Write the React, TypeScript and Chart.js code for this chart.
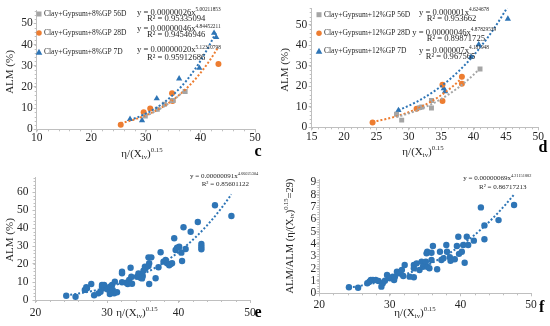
import React, { useEffect, useRef } from "react";
import { Chart, registerables } from "chart.js";
Chart.register(...registerables);

const FONT = '"Liberation Serif", "Times New Roman", serif';
const GRAY = "#a5a5a5";
const ORANGE = "#ed7d31";
const BLUE = "#2e75b6";
const AXIS = "#bfbfbf";
const TXT = "#262626";

// ---------- Panel c data (8% GP) ----------
const c56x = [29.9, 32.1, 33.4, 35.0, 37.2];
const c56y = [6.3, 9.5, 11.8, 13.6, 17.8];
const c28x = [25.4, 29.6, 30.8, 34.8, 34.9, 43.3];
const c28y = [2.2, 8.1, 9.8, 17.0, 13.4, 30.8];
const c7x = [27.1, 29.3, 32.0, 36.1, 39.8, 42.5, 42.9];
const c7y = [4.8, 4.2, 14.5, 23.9, 28.9, 45.4, 43.4];
const cFitA = [0.00000026, 0.00000046, 0.0000002];
const cFitB = [5.00211853, 4.84452211, 5.12310798];
const cLegend = ["Clay+Gypsum+8%GP 56D", "Clay+Gypsum+8%GP 28D", "Clay+Gypsum+8%GP 7D"];
const cEq = [
  ["y = 0.00000026x", "5.00211853", "R² = 0.95335094"],
  ["y = 0.00000046x", "4.84452211", "R² = 0.94546946"],
  ["y = 0.00000020x", "5.12310798", "R² = 0.95912686"],
];

// ---------- Panel d data (12% GP) ----------
const d56x = [28.1, 28.9, 31.7, 32.0, 33.5, 33.5, 41.0];
const d56y = [6.4, 3.5, 9.6, 9.9, 13.1, 9.4, 28.4];
const d28x = [24.4, 31.2, 35.2, 35.2, 38.2, 38.2];
const d28y = [2.4, 9.0, 12.8, 20.8, 24.7, 21.2];
const d7x = [28.4, 35.4, 35.6, 39.6, 40.8, 45.3];
const d7y = [8.3, 19.0, 17.5, 34.3, 40.4, 52.9];
const dFitA = [0.000001, 0.00000046, 0.000007];
const dFitB = [4.624678, 4.87829539, 4.181948];
const dLegend = ["Clay+Gypsum+12%GP 56D", "Clay+Gypsum+12%GP 28D", "Clay+Gypsum+12%GP 7D"];
const dEq = [
  ["y = 0.000001x", "4.624678", "R² = 0.953662"],
  ["y = 0.00000046x", "4.87829539", "R² = 0.89871725"],
  ["y = 0.000007x", "4.181948", "R² = 0.967565"],
];

// ---------- Panel e data (all mixes, ALM) ----------
const eX = [24.3, 25.6, 26.9, 27.1, 27.2, 27.8, 28.2, 28.8, 29.1, 29.3, 29.6, 29.6, 29.3, 30.1, 30.4, 30.7, 30.8, 30.4, 31.0, 31.4,
  31.1, 32.1, 32.1, 32.7, 32.9, 33.1, 33.4, 33.3, 34.2, 34.4, 34.7, 34.8, 35.0, 35.1, 35.3, 35.4, 35.8, 35.9, 35.8, 36.2,
  35.9, 36.8, 37.2, 37.5, 37.9, 38.2, 38.4, 38.7, 38.9, 39.1, 39.4, 39.6, 39.8, 40.1, 40.4, 40.5, 40.7, 41.0, 41.7, 42.7,
  43.2, 43.2, 43.2, 45.1, 47.4, 32.1, 33.5, 34.9];
const eY = [2.4, 1.8, 5.6, 7.1, 6.5, 8.9, 2.6, 3.7, 4.6, 7.4, 8.3, 6.5, 8.3, 5.9, 7.4, 8.3, 5.6, 3.3, 3.7, 4.3,
  10.2, 14.8, 15.7, 9.6, 8.9, 11.1, 12.9, 17.9, 12.9, 14.8, 12.4, 12.6, 13.3, 16.3, 18.5, 17.6, 18.9, 20.4, 23.7, 23.7,
  8.9, 12.1, 18.2, 26.5, 21.3, 22.2, 20.4, 19.3, 20.0, 20.4, 34.3, 27.8, 29.1, 29.6, 26.3, 21.7, 40.4, 28.3, 37.9, 43.3,
  31.1, 29.6, 28.2, 52.6, 46.7, 9.9, 9.0, 12.0];
const eFitA = 0.00000091;
const eFitB = 4.66025304;

// ---------- Panel f data (normalised ALM) ----------
const fX = [24.2, 25.5, 26.8, 27.1, 27.3, 27.6, 28.0, 28.4, 28.8, 29.0, 29.3, 29.6, 30.0, 30.4, 30.6, 30.7, 31.0, 31.3, 31.7, 31.9,
  32.1, 32.8, 33.4, 33.4, 33.4, 33.8, 34.2, 34.5, 34.7, 35.1, 35.3, 35.6, 35.2, 35.3, 35.9, 36.1, 35.9, 36.7, 37.1, 37.3,
  37.6, 38.0, 38.1, 38.5, 38.6, 39.2, 39.5, 39.7, 39.8, 40.2, 40.4, 40.6, 40.9, 41.1, 41.9, 42.9, 43.4, 43.4, 45.4, 47.6];
const fY = [0.49, 0.45, 0.81, 0.94, 1.08, 1.08, 1.08, 1.0, 0.54, 0.81, 1.02, 1.48, 1.22, 1.35, 1.08, 1.32, 1.75, 1.62, 1.89, 1.4,
  2.3, 1.35, 1.3, 2.3, 2.03, 2.43, 1.89, 2.56, 2.16, 2.56, 2.16, 2.03, 3.24, 3.37, 2.7, 3.84, 3.29, 1.95, 3.37, 2.7,
  2.84, 3.92, 3.37, 2.92, 2.64, 2.76, 3.84, 4.59, 3.2, 3.37, 3.92, 2.48, 4.59, 3.92, 4.27, 6.97, 5.51, 4.38, 5.94, 7.16];
const fFitA = 0.00000069;
const fFitB = 4.21151882;

// ---------- helpers ----------
type Part = { t: string; k?: "sub" | "sup" };
type TextItem = { parts: Part[]; x: number; y: number; size: number; bold?: boolean; rot?: boolean; align?: "left" | "center" | "right"; color?: string };
type LegendItem = { label: string; color: string; shape: "rect" | "circle" | "triangle"; x: number; y: number; size: number };

const pts = (xs: number[], ys: number[]) => xs.map((x, i) => ({ x, y: ys[i] }));
function powerCurve(a: number, b: number, xs: number[]) {
  const x0 = Math.min(...xs), x1 = Math.max(...xs);
  const out: { x: number; y: number }[] = [];
  for (let i = 0; i <= 40; i++) {
    const x = x0 + ((x1 - x0) * i) / 40;
    out.push({ x, y: a * Math.pow(x, b) });
  }
  return out;
}

function drawRich(ctx: CanvasRenderingContext2D, it: TextItem) {
  const fontFor = (p: Part) => `${it.bold ? "bold " : ""}${p.k ? it.size * 0.62 : it.size}px ${FONT}`;
  let total = 0;
  const ws = it.parts.map((p) => {
    ctx.font = fontFor(p);
    const w = ctx.measureText(p.t).width;
    total += w;
    return w;
  });
  ctx.save();
  ctx.translate(it.x, it.y);
  if (it.rot) ctx.rotate(-Math.PI / 2);
  let x0 = it.align === "center" ? -total / 2 : it.align === "right" ? -total : 0;
  ctx.textBaseline = "middle";
  ctx.textAlign = "left";
  ctx.fillStyle = it.color || TXT;
  it.parts.forEach((p, i) => {
    ctx.font = fontFor(p);
    const dy = p.k === "sup" ? -it.size * 0.33 : p.k === "sub" ? it.size * 0.25 : 0;
    ctx.fillText(p.t, x0, dy);
    x0 += ws[i];
  });
  ctx.restore();
}

function drawMarker(ctx: CanvasRenderingContext2D, shape: string, x: number, y: number, s: number, color: string) {
  ctx.save();
  ctx.fillStyle = color;
  ctx.beginPath();
  if (shape === "rect") ctx.rect(x - s / 2, y - s / 2, s, s);
  else if (shape === "circle") ctx.arc(x, y, s / 2, 0, Math.PI * 2);
  else {
    ctx.moveTo(x, y - s * 0.55);
    ctx.lineTo(x + s * 0.55, y + s * 0.45);
    ctx.lineTo(x - s * 0.55, y + s * 0.45);
    ctx.closePath();
  }
  ctx.fill();
  ctx.restore();
}

const overlayPlugin = {
  id: "overlay",
  afterDraw(chart: any) {
    const o = chart.options.plugins.overlay;
    if (!o) return;
    const ctx: CanvasRenderingContext2D = chart.ctx;
    const xs = chart.scales.x, ys = chart.scales.y;
    const area = chart.chartArea;
    ctx.save();
    ctx.strokeStyle = AXIS;
    ctx.lineWidth = 1;
    if (o.minorX) {
      for (let v = xs.min; v <= xs.max + 1e-9; v += o.minorX) {
        const px = Math.round(xs.getPixelForValue(v)) + 0.5;
        ctx.beginPath();
        ctx.moveTo(px, area.bottom);
        ctx.lineTo(px, area.bottom + 2);
        ctx.stroke();
      }
    }
    if (o.minorY) {
      for (let v = ys.min; v <= ys.max + 1e-9; v += o.minorY) {
        const py = Math.round(ys.getPixelForValue(v)) + 0.5;
        ctx.beginPath();
        ctx.moveTo(area.left - 2, py);
        ctx.lineTo(area.left, py);
        ctx.stroke();
      }
    }
    ctx.restore();
    (o.legend || []).forEach((l: LegendItem) => {
      drawMarker(ctx, l.shape, l.x, l.y, l.size, l.color);
      drawRich(ctx, { parts: [{ t: l.label }], x: l.x + 5, y: l.y, size: 7.5, align: "left" });
    });
    (o.texts || []).forEach((t: TextItem) => drawRich(ctx, t));
  },
};

type Spec = {
  left: number; top: number; W: number; H: number;
  area: { l: number; r: number; t: number; b: number };
  x: { min: number; max: number; step: number; minor: number; gap: number };
  y: { min: number; max: number; step: number; minor: number; gap: number };
  datasets: any[];
  texts: TextItem[];
  legend?: LegendItem[];
};

const TICK_SIZE = 11.5;

function buildConfig(s: Spec): any {
  const mk = (min: number, max: number, step: number) => (sc: any) => {
    const t: any[] = [];
    for (let i = 0; min + i * step <= max + 1e-9; i++) t.push({ value: Math.round((min + i * step) * 1000) / 1000 });
    sc.ticks = t;
  };
  return {
    type: "scatter",
    data: { datasets: s.datasets },
    plugins: [overlayPlugin],
    options: {
      animation: false,
      responsive: false,
      events: [],
      layout: { padding: { left: 0, top: s.area.t, right: s.W - s.area.r, bottom: 0 } },
      plugins: {
        legend: { display: false },
        tooltip: { enabled: false },
        overlay: { minorX: s.x.minor, minorY: s.y.minor, texts: s.texts, legend: s.legend },
      },
      scales: {
        x: {
          type: "linear",
          min: s.x.min,
          max: s.x.max,
          afterFit: (sc: any) => { sc.height = s.H - s.area.b; },
          afterBuildTicks: mk(s.x.min, s.x.max, s.x.step),
          ticks: { autoSkip: false, maxRotation: 0, padding: s.x.gap - 3, color: TXT, font: { family: FONT, size: TICK_SIZE } },
          grid: { drawOnChartArea: false, tickLength: 3, color: AXIS },
          border: { color: AXIS },
        },
        y: {
          type: "linear",
          min: s.y.min,
          max: s.y.max,
          afterFit: (sc: any) => { sc.width = s.area.l; },
          afterBuildTicks: mk(s.y.min, s.y.max, s.y.step),
          ticks: { autoSkip: false, padding: s.y.gap - 3, color: TXT, font: { family: FONT, size: TICK_SIZE } },
          grid: { drawOnChartArea: false, tickLength: 3, color: AXIS },
          border: { color: AXIS },
        },
      },
    },
  };
}

function pointDs(data: any[], color: string, style: string, r: number) {
  return { data, pointStyle: style, pointRadius: r, backgroundColor: color, borderColor: color, borderWidth: 0, showLine: false, order: 2 };
}
function fitDs(data: any[], color: string) {
  return { data, showLine: true, pointRadius: 0, borderColor: color, borderWidth: 2, borderDash: [2, 2], fill: false, order: 1 };
}

const xTitle: Part[] = [{ t: "η/(X" }, { t: "iv", k: "sub" }, { t: ")" }, { t: "0.15", k: "sup" }];
const fYTitle: Part[] = [{ t: "ALM/ALM (η/(X" }, { t: "iv", k: "sub" }, { t: ")" }, { t: "0.15", k: "sup" }, { t: "=29)" }];

function eqTexts(eq: string[][], pos: number[][], size: number): TextItem[] {
  const out: TextItem[] = [];
  eq.forEach((e, i) => {
    const p = pos[i];
    out.push({ parts: [{ t: e[0] }, { t: e[1], k: "sup" }], x: p[0], y: p[1], size });
    out.push({ parts: [{ t: e[2] }], x: p[2], y: p[3], size });
  });
  return out;
}

const specC: Spec = {
  left: 0, top: 0, W: 275, H: 163,
  area: { l: 36.7, r: 255, t: 10.6, b: 129.3 },
  x: { min: 10, max: 50, step: 10, minor: 2, gap: 2 },
  y: { min: 0, max: 56, step: 10, minor: 2, gap: 4 },
  datasets: [
    fitDs(powerCurve(cFitA[0], cFitB[0], c56x), GRAY),
    fitDs(powerCurve(cFitA[1], cFitB[1], c28x), ORANGE),
    fitDs(powerCurve(cFitA[2], cFitB[2], c7x), BLUE),
    pointDs(pts(c56x, c56y), GRAY, "rect", 3.5),
    pointDs(pts(c28x, c28y), ORANGE, "circle", 3),
    pointDs(pts(c7x, c7y), BLUE, "triangle", 3.6),
  ],
  legend: [
    { label: cLegend[0], color: GRAY, shape: "rect", x: 39, y: 14, size: 5 },
    { label: cLegend[1], color: ORANGE, shape: "circle", x: 39, y: 33, size: 5.5 },
    { label: cLegend[2], color: BLUE, shape: "triangle", x: 39, y: 52, size: 6 },
  ],
  texts: [
    ...eqTexts(cEq, [[137, 12.3, 147, 18.5], [137, 29, 147, 35], [137, 50, 147, 57.3]], 8.6),
    { parts: [{ t: "ALM (%)" }], x: 10, y: 72, size: 11, rot: true, align: "center" },
    { parts: xTitle, x: 142, y: 154, size: 11, align: "center" },
    { parts: [{ t: "c" }], x: 258, y: 152, size: 16, bold: true, align: "center", color: "#000" },
  ],
};

const specD: Spec = {
  left: 275, top: 0, W: 275, H: 163,
  area: { l: 36.7, r: 263.3, t: 6.7, b: 127.3 },
  x: { min: 15, max: 50, step: 5, minor: 1, gap: 2.5 },
  y: { min: 0, max: 58, step: 10, minor: 2, gap: 4.5 },
  datasets: [
    fitDs(powerCurve(dFitA[0], dFitB[0], d56x), GRAY),
    fitDs(powerCurve(dFitA[1], dFitB[1], d28x), ORANGE),
    fitDs(powerCurve(dFitA[2], dFitB[2], d7x), BLUE),
    pointDs(pts(d56x, d56y), GRAY, "rect", 3.5),
    pointDs(pts(d28x, d28y), ORANGE, "circle", 3),
    pointDs(pts(d7x, d7y), BLUE, "triangle", 3.6),
  ],
  legend: [
    { label: dLegend[0], color: GRAY, shape: "rect", x: 44, y: 14.7, size: 5 },
    { label: dLegend[1], color: ORANGE, shape: "circle", x: 44, y: 33.3, size: 5.5 },
    { label: dLegend[2], color: BLUE, shape: "triangle", x: 44, y: 51, size: 6 },
  ],
  texts: [
    ...eqTexts(dEq, [[144, 12.3, 151.7, 18.3], [137.3, 32.3, 151.7, 39], [144, 50.7, 150.7, 56.7]], 8.6),
    { parts: [{ t: "ALM (%)" }], x: 10, y: 70, size: 11, rot: true, align: "center" },
    { parts: xTitle, x: 148, y: 152, size: 11, align: "center" },
    { parts: [{ t: "d" }], x: 268, y: 148, size: 16, bold: true, align: "center", color: "#000" },
  ],
};

const specE: Spec = {
  left: 0, top: 163, W: 275, H: 163,
  area: { l: 35.5, r: 250, t: 14.6, b: 137 },
  x: { min: 20, max: 50, step: 10, minor: 2, gap: 6 },
  y: { min: 0, max: 68, step: 10, minor: 2, gap: 7 },
  datasets: [
    fitDs(powerCurve(eFitA, eFitB, eX), BLUE),
    pointDs(pts(eX, eY), BLUE, "circle", 3.2),
  ],
  texts: [
    { parts: [{ t: "y = 0.00000091x" }, { t: "4.66025304", k: "sup" }], x: 190, y: 13.3, size: 7 },
    { parts: [{ t: "R² = 0.85601122" }], x: 201.7, y: 20.7, size: 7 },
    { parts: [{ t: "ALM (%)" }], x: 10, y: 77, size: 11, rot: true, align: "center" },
    { parts: xTitle, x: 137, y: 150, size: 11, align: "center" },
    { parts: [{ t: "e" }], x: 258, y: 150, size: 16, bold: true, align: "center", color: "#000" },
  ],
};

const specF: Spec = {
  left: 275, top: 163, W: 275, H: 163,
  area: { l: 44.3, r: 256, t: 16.9, b: 130.3 },
  x: { min: 20, max: 50, step: 10, minor: 2, gap: 5 },
  y: { min: 0, max: 9.2, step: 1, minor: 0.2, gap: 3 },
  datasets: [
    fitDs(powerCurve(fFitA, fFitB, fX), BLUE),
    pointDs(pts(fX, fY), BLUE, "circle", 3.2),
  ],
  texts: [
    { parts: [{ t: "y = 0.00000069x" }, { t: "4.21151882", k: "sup" }], x: 188.3, y: 15, size: 7 },
    { parts: [{ t: "R² = 0.86717213" }], x: 204, y: 24, size: 7 },
    { parts: fYTitle, x: 15, y: 73, size: 10.5, rot: true, align: "center" },
    { parts: xTitle, x: 140, y: 150.3, size: 11, align: "center" },
    { parts: [{ t: "f" }], x: 266.7, y: 145, size: 16, bold: true, align: "center", color: "#000" },
  ],
};

function Panel({ spec }: { spec: Spec }) {
  const ref = useRef<HTMLCanvasElement>(null);
  useEffect(() => {
    const chart = new Chart(ref.current as HTMLCanvasElement, buildConfig(spec));
    return () => chart.destroy();
  }, [spec]);
  return (
    <div style={{ position: "absolute", left: spec.left, top: spec.top, width: spec.W, height: spec.H }}>
      <canvas ref={ref} width={spec.W} height={spec.H} style={{ width: spec.W, height: spec.H, display: "block" }} />
    </div>
  );
}

export default function App() {
  return (
    <div style={{ position: "absolute", left: 0, top: 0, width: 550, height: 326, background: "#fff", overflow: "hidden" }}>
      <Panel spec={specC} />
      <Panel spec={specD} />
      <Panel spec={specE} />
      <Panel spec={specF} />
    </div>
  );
}
